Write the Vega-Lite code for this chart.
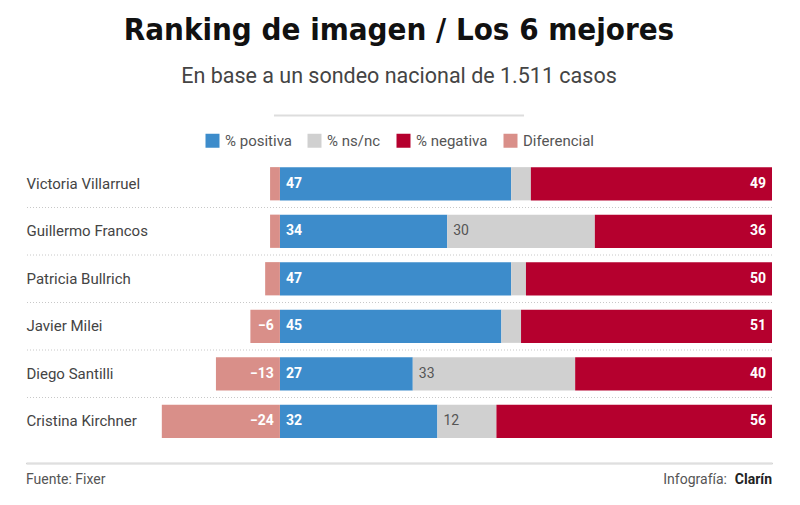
{
  "$schema": "https://vega.github.io/schema/vega-lite/v6.json",
  "padding": {"left": 25, "right": 29, "top": 15, "bottom": 5},
  "background": "white",
  "datasets": {
    "encuesta": [
      {"nombre": "Victoria Villarruel", "serie": "% positiva", "valor": 47},
      {"nombre": "Victoria Villarruel", "serie": "% ns/nc", "valor": 4},
      {"nombre": "Victoria Villarruel", "serie": "% negativa", "valor": 49},
      {"nombre": "Victoria Villarruel", "serie": "Diferencial", "valor": -2},
      {"nombre": "Guillermo Francos", "serie": "% positiva", "valor": 34},
      {"nombre": "Guillermo Francos", "serie": "% ns/nc", "valor": 30},
      {"nombre": "Guillermo Francos", "serie": "% negativa", "valor": 36},
      {"nombre": "Guillermo Francos", "serie": "Diferencial", "valor": -2},
      {"nombre": "Patricia Bullrich", "serie": "% positiva", "valor": 47},
      {"nombre": "Patricia Bullrich", "serie": "% ns/nc", "valor": 3},
      {"nombre": "Patricia Bullrich", "serie": "% negativa", "valor": 50},
      {"nombre": "Patricia Bullrich", "serie": "Diferencial", "valor": -3},
      {"nombre": "Javier Milei", "serie": "% positiva", "valor": 45},
      {"nombre": "Javier Milei", "serie": "% ns/nc", "valor": 4},
      {"nombre": "Javier Milei", "serie": "% negativa", "valor": 51},
      {"nombre": "Javier Milei", "serie": "Diferencial", "valor": -6},
      {"nombre": "Diego Santilli", "serie": "% positiva", "valor": 27},
      {"nombre": "Diego Santilli", "serie": "% ns/nc", "valor": 33},
      {"nombre": "Diego Santilli", "serie": "% negativa", "valor": 40},
      {"nombre": "Diego Santilli", "serie": "Diferencial", "valor": -13},
      {"nombre": "Cristina Kirchner", "serie": "% positiva", "valor": 32},
      {"nombre": "Cristina Kirchner", "serie": "% ns/nc", "valor": 12},
      {"nombre": "Cristina Kirchner", "serie": "% negativa", "valor": 56},
      {"nombre": "Cristina Kirchner", "serie": "Diferencial", "valor": -24}
    ],
    "pie": [
      {"lado": "izquierda", "texto": "Fuente: Fixer"},
      {"lado": "derecha", "texto": "Infografía:"},
      {"lado": "derecha", "texto": "Clarín"}
    ]
  },
  "spacing": 16,
  "resolve": {"scale": {"color": "independent"}, "legend": {"color": "independent"}},
  "vconcat": [
    {
      "width": 746,
      "height": 1,
      "title": {
        "text": "Ranking de imagen / Los 6 mejores",
        "subtitle": "En base a un sondeo nacional de 1.511 casos",
        "anchor": "middle",
        "frame": "group",
        "font": "DejaVu Sans Condensed, DejaVu Sans, sans-serif",
        "fontSize": 31,
        "fontWeight": "bold",
        "color": "#111111",
        "subtitleFont": "Roboto",
        "subtitleFontSize": 21.5,
        "subtitleColor": "#444444",
        "subtitlePadding": 19,
        "offset": 26
      },
      "data": {"values": [{}]},
      "mark": {"type": "rule", "color": "#dddddd", "strokeWidth": 2},
      "encoding": {
        "x": {"datum": 0.3324, "type": "quantitative", "scale": {"domain": [0, 1], "nice": false}, "axis": null},
        "x2": {"datum": 0.6676}
      }
    },
    {
      "spacing": 16.5,
      "resolve": {"scale": {"color": "independent"}, "legend": {"color": "independent"}},
      "vconcat": [
        {
          "width": 746,
          "height": 285,
          "data": {"name": "encuesta"},
          "transform": [
            {"stack": "valor", "groupby": ["nombre"], "sort": [{"field": "serie", "order": "descending"}], "as": ["x0", "x1"]}
          ],
          "encoding": {
            "y": {
              "field": "nombre",
              "type": "nominal",
              "sort": ["Victoria Villarruel", "Guillermo Francos", "Patricia Bullrich", "Javier Milei", "Diego Santilli", "Cristina Kirchner"],
              "scale": {"paddingInner": 0, "paddingOuter": 0},
              "axis": {
                "title": null,
                "domain": false,
                "ticks": false,
                "tickSize": 0,
                "labelAlign": "left",
                "labelPadding": 0,
                "labelFont": "Roboto",
                "labelFontSize": 15,
                "labelColor": "#444444"
              }
            }
          },
          "layer": [
            {
              "transform": [{"filter": "datum.serie === '% positiva' && datum.nombre !== 'Victoria Villarruel'"}],
              "mark": {"type": "rule", "color": "#c8c8c8", "strokeDash": [1, 2], "strokeWidth": 1},
              "encoding": {
                "y": {"field": "nombre", "type": "nominal", "sort": ["Victoria Villarruel", "Guillermo Francos", "Patricia Bullrich", "Javier Milei", "Diego Santilli", "Cristina Kirchner"], "bandPosition": 0}
              }
            },
            {
              "mark": {"type": "bar", "height": {"band": 0.7}},
              "encoding": {
                "x": {"field": "x0", "type": "quantitative", "scale": {"domain": [-51.6, 100], "nice": false, "zero": false}, "axis": null},
                "x2": {"field": "x1"},
                "color": {
                  "field": "serie",
                  "type": "nominal",
                  "scale": {
                    "domain": ["% positiva", "% ns/nc", "% negativa", "Diferencial"],
                    "range": ["#3d8ccb", "#d0d0d0", "#b5002e", "#d98f89"]
                  },
                  "legend": {
                    "title": null,
                    "orient": "top",
                    "direction": "horizontal",
                    "symbolType": "square",
                    "symbolSize": 196,
                    "symbolStrokeWidth": 0,
                    "labelFont": "Roboto",
                    "labelFontSize": 15,
                    "labelColor": "#555555",
                    "columnPadding": 15,
                    "labelOffset": 5,
                    "offset": 11
                  }
                }
              }
            },
            {
              "transform": [{"filter": "datum.serie === '% positiva'"}],
              "mark": {"type": "text", "align": "left", "dx": 6, "color": "white", "fontWeight": "bold", "fontSize": 14, "font": "Roboto"},
              "encoding": {
                "x": {"field": "x0", "type": "quantitative"},
                "text": {"field": "valor", "type": "quantitative", "format": "d"}
              }
            },
            {
              "transform": [{"filter": "datum.serie === '% ns/nc' && datum.valor >= 10"}],
              "mark": {"type": "text", "align": "left", "dx": 6, "color": "#555555", "fontSize": 14, "font": "Roboto"},
              "encoding": {
                "x": {"field": "x0", "type": "quantitative"},
                "text": {"field": "valor", "type": "quantitative", "format": "d"}
              }
            },
            {
              "transform": [{"filter": "datum.serie === '% negativa'"}],
              "mark": {"type": "text", "align": "right", "dx": -6, "color": "white", "fontWeight": "bold", "fontSize": 14, "font": "Roboto"},
              "encoding": {
                "x": {"field": "x1", "type": "quantitative"},
                "text": {"field": "valor", "type": "quantitative", "format": "d"}
              }
            },
            {
              "transform": [{"filter": "datum.serie === 'Diferencial' && datum.valor <= -5"}],
              "mark": {"type": "text", "align": "right", "dx": -6, "color": "white", "fontWeight": "bold", "fontSize": 14, "font": "Roboto"},
              "encoding": {
                "x": {"field": "x0", "type": "quantitative"},
                "text": {"field": "valor", "type": "quantitative", "format": "d"}
              }
            }
          ]
        },
        {
          "width": 746,
          "height": 1,
          "view": {"stroke": "#d4d4d4", "strokeWidth": 1},
          "data": {"name": "pie"},
          "encoding": {
            "x": {"field": "lado", "type": "ordinal", "sort": ["izquierda", "derecha"], "scale": {"type": "point", "padding": 0}, "axis": null},
            "text": {"field": "texto", "type": "nominal"}
          },
          "layer": [
            {
              "transform": [{"filter": "datum.texto === 'Fuente: Fixer'"}],
              "mark": {"type": "text", "baseline": "top", "dy": 10, "align": "left", "fontSize": 14, "font": "Roboto", "color": "#555555"}
            },
            {
              "transform": [{"filter": "datum.texto === 'Infografía:'"}],
              "mark": {"type": "text", "baseline": "top", "dy": 10, "align": "right", "dx": -45, "fontSize": 14, "font": "Roboto", "color": "#555555"}
            },
            {
              "transform": [{"filter": "datum.texto === 'Clarín'"}],
              "mark": {"type": "text", "baseline": "top", "dy": 10, "align": "right", "fontSize": 14, "font": "Roboto", "fontWeight": "bold", "color": "#222222"}
            }
          ]
        }
      ]
    }
  ],
  "config": {
    "view": {"stroke": null},
    "font": "Roboto",
    "legend": {"layout": {"top": {"anchor": "middle"}}}
  }
}
